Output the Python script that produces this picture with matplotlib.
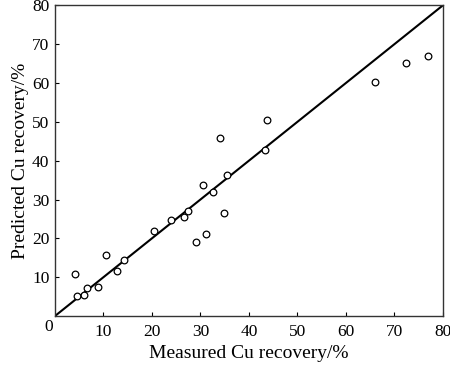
import matplotlib
matplotlib.use("Agg")
import matplotlib.pyplot as plt

measured = [4.1, 4.5, 6.0, 6.6, 8.8, 10.5, 12.8, 14.3, 20.4, 23.9, 26.6, 27.4,
            29.0, 31.1, 30.5, 32.6, 34.1, 34.9, 35.4, 43.7, 43.4, 66.1, 72.4, 76.9]
predicted = [10.8, 5.2, 5.4, 7.3, 7.5, 15.8, 11.6, 14.5, 21.9, 24.8, 25.4, 27.1,
             19.1, 21.1, 33.8, 31.9, 45.8, 26.6, 36.2, 50.6, 42.7, 60.3, 65.2, 67.0]
ticks = [10, 20, 30, 40, 50, 60, 70, 80]
line_ends = [0, 80]

plt.rcParams['font.family'] = ['Liberation Serif', 'DejaVu Serif']
fig = plt.figure(figsize=(4.5, 3.68), dpi=100)
ax = fig.add_axes([0.1222, 0.1413, 0.8616, 0.8438])

ax.plot(line_ends, line_ends, color='black', lw=1.5)
ax.plot(measured, predicted, linestyle='none', marker='o', ms=4.8,
        mfc='white', mec='black', mew=0.9)

ax.set_xlim(0, 80)
ax.set_ylim(0, 80)
ax.set_xticks(ticks)
ax.set_yticks(ticks)
ax.tick_params(direction='in', length=3, width=0.8, labelsize=12.5)
ax.tick_params(axis='x', pad=6)
ax.tick_params(axis='y', pad=4)
for s in ax.spines.values():
    s.set_linewidth(1.0)
    s.set_color('#333333')
ax.annotate('0', xy=(0, 0), xytext=(-4.5, -8), textcoords='offset points',
            ha='center', va='center', fontsize=12.5)
ax.set_xlabel('Measured Cu recovery/%', fontsize=14, labelpad=3)
ax.set_ylabel('Predicted Cu recovery/%', fontsize=14, labelpad=2)

fig.savefig('out.png', dpi=100)
